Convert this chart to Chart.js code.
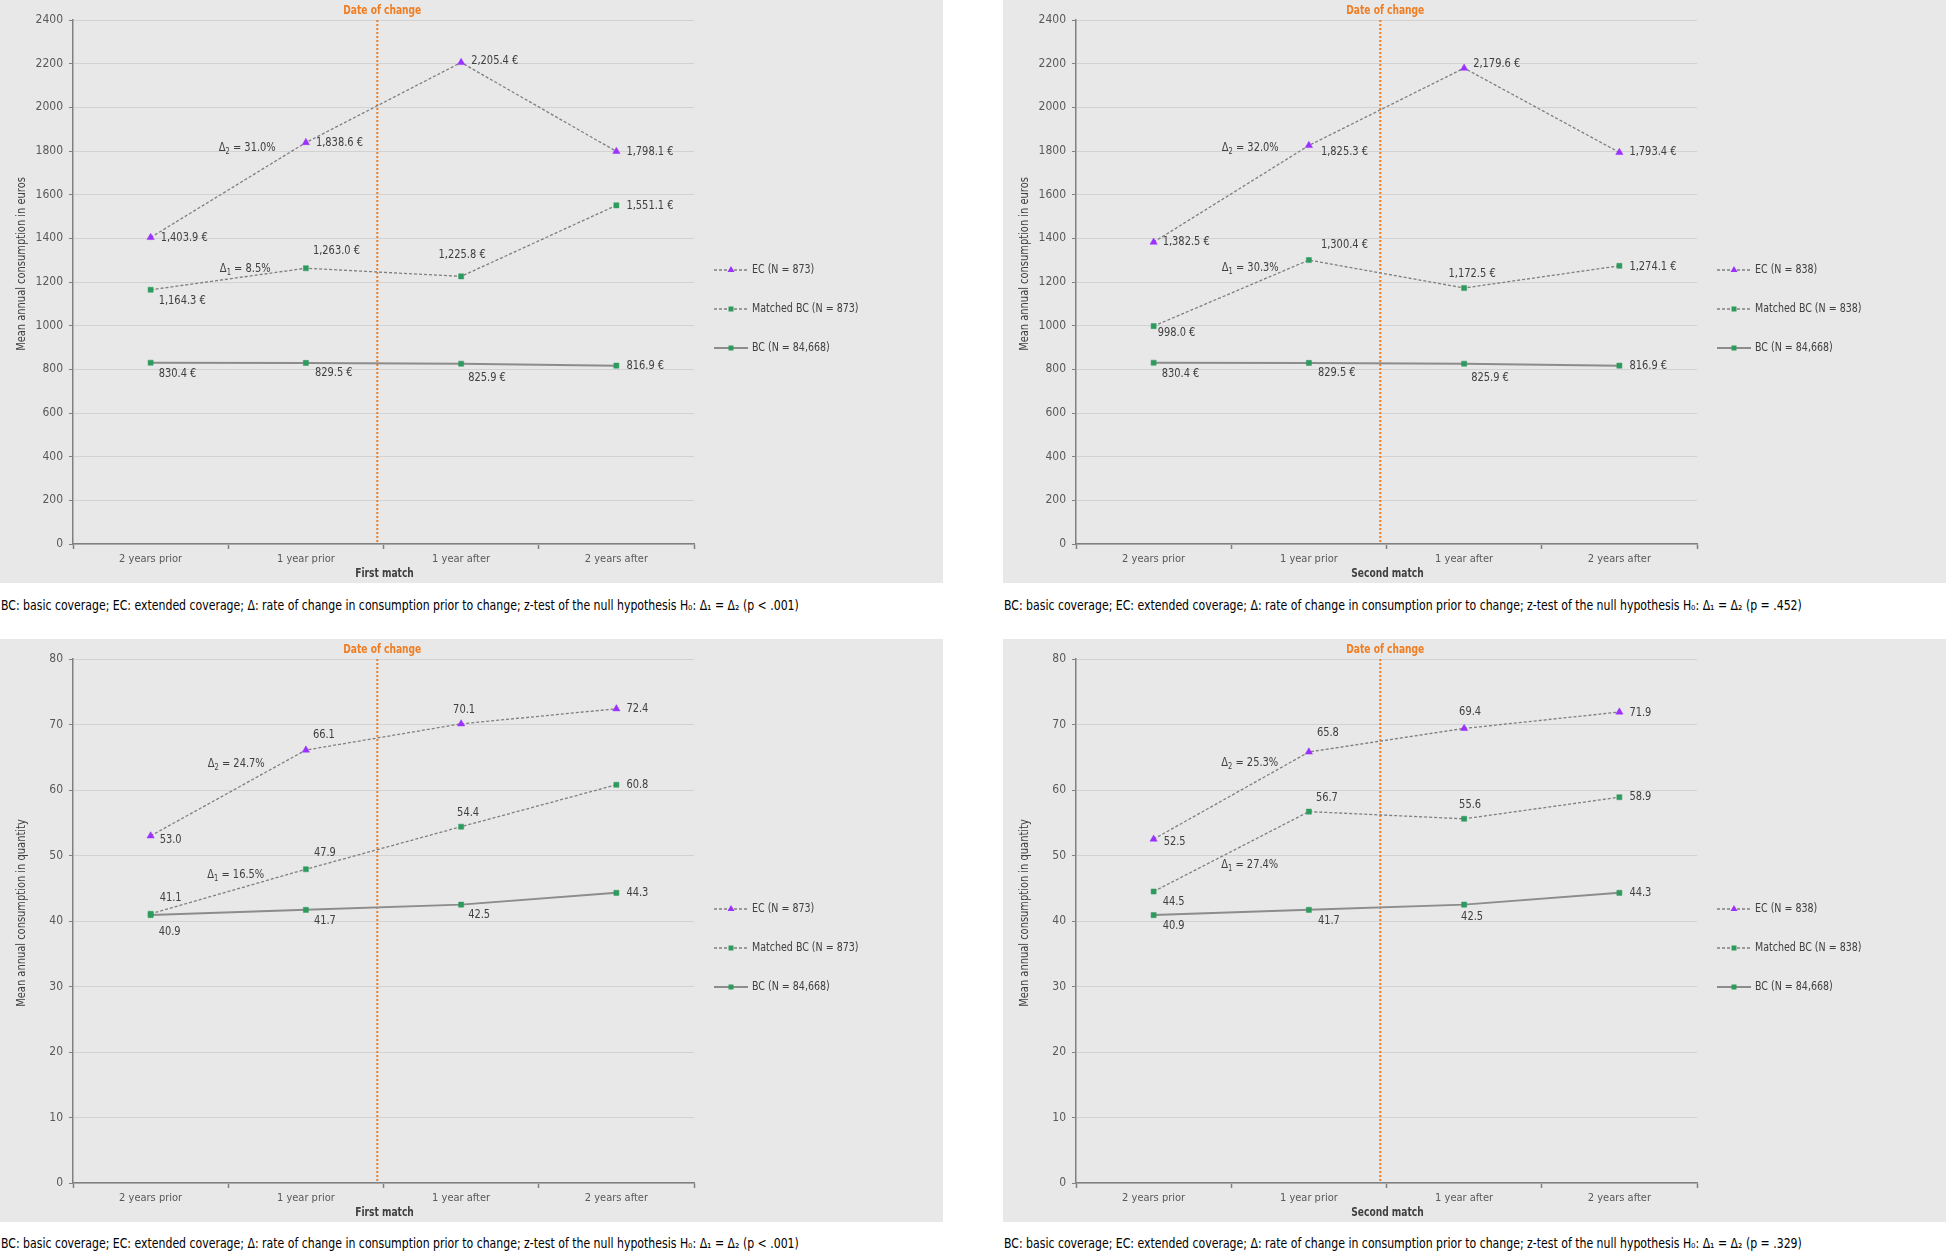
<!DOCTYPE html>
<html><head><meta charset="utf-8">
<script src="https://cdn.jsdelivr.net/npm/chart.js@4.4.1/dist/chart.umd.min.js"></script>
<style>
html,body{margin:0;padding:0;background:#fff;width:1946px;height:1251px;overflow:hidden;}
.panel{position:absolute;width:943px;height:583px;background:#e8e8e8;}
.panel canvas{position:absolute;left:0;top:0;}
.cap{position:absolute;font-family:"Liberation Sans Narrow","DejaVu Sans Condensed","Arial Narrow",sans-serif;font-size:13.5px;color:#000;white-space:nowrap;line-height:18px;transform:scaleX(0.9);transform-origin:0 50%;}
</style></head><body>
<div class="panel" style="left:0;top:0"><canvas id="c1" width="943" height="583"></canvas></div>
<div class="panel" style="left:1003px;top:0"><canvas id="c2" width="943" height="583"></canvas></div>
<div class="panel" style="left:0;top:639px"><canvas id="c3" width="943" height="583"></canvas></div>
<div class="panel" style="left:1003px;top:639px"><canvas id="c4" width="943" height="583"></canvas></div>
<div class="cap" id="cap1" style="left:1px;top:596px"></div>
<div class="cap" id="cap2" style="left:1004px;top:596px"></div>
<div class="cap" id="cap3" style="left:1px;top:1234px"></div>
<div class="cap" id="cap4" style="left:1004px;top:1234px"></div>
<script>
// ---------- data ----------
const categories = ['2 years prior', '1 year prior', '1 year after', '2 years after'];
const ecEuros1 = [1403.9, 1838.6, 2205.4, 1798.1];
const matchedEuros1 = [1164.3, 1263.0, 1225.8, 1551.1];
const bcEuros = [830.4, 829.5, 825.9, 816.9];
const ecEuros2 = [1382.5, 1825.3, 2179.6, 1793.4];
const matchedEuros2 = [998.0, 1300.4, 1172.5, 1274.1];
const ecQty1 = [53.0, 66.1, 70.1, 72.4];
const matchedQty1 = [41.1, 47.9, 54.4, 60.8];
const bcQty = [40.9, 41.7, 42.5, 44.3];
const ecQty2 = [52.5, 65.8, 69.4, 71.9];
const matchedQty2 = [44.5, 56.7, 55.6, 58.9];
const deltaEC = [31.0, 32.0, 24.7, 25.3];       // Δ2
const deltaMatched = [8.5, 30.3, 16.5, 27.4];   // Δ1
const matchN = [873, 838, 873, 838];
const bcN = '84,668';
const matchNames = ['First match', 'Second match', 'First match', 'Second match'];
const yTitles = ['Mean annual consumption in euros', 'Mean annual consumption in euros',
                 'Mean annual consumption in quantity', 'Mean annual consumption in quantity'];
const yMax = [2400, 2400, 80, 80];
const yStep = [200, 200, 10, 10];
const pValues = ['p < .001', 'p = .452', 'p < .001', 'p = .329'];
const changeLabel = 'Date of change';

// ---------- styles ----------
const FAM = '"Liberation Sans Narrow","DejaVu Sans Condensed","Arial Narrow",sans-serif';
const PURPLE = '#9B30FF', GREEN = '#2E9B5E', ORANGE = '#F07D22', TEXT = '#404040', TICK = '#595959';
const DASH = [3, 2];
const SX = 0.88; // horizontal squeeze to mimic a narrow font

function fmtEuro(v){ const s = v.toFixed(1).split('.'); return s[0].replace(/\B(?=(\d{3})+(?!\d))/g, ',') + '.' + s[1] + ' €'; }
function fmtQty(v){ return v.toFixed(1); }

function fillN(ctx, text, x, y, align){
  ctx.save(); ctx.translate(x, y); ctx.scale(SX, 1);
  ctx.textAlign = align; ctx.textBaseline = 'middle'; ctx.fillText(text, 0, 0);
  ctx.restore();
}

// label placements [dx, dy, align] per dataset (EC, Matched, BC) per point
const placements = [
  [[[10,0,'l'],[10,0,'l'],[10,-2,'l'],[10,0,'l']],
   [[8,11,'l'],[7,-17,'l'],[1,-22,'c'],[10,0,'l']],
   [[8,11,'l'],[9,10,'l'],[7,14,'l'],[10,0,'l']]],
  [[[9,0,'l'],[12,6,'l'],[9,-4,'l'],[10,-1,'l']],
   [[4,7,'l'],[12,-15,'l'],[8,-14,'c'],[10,1,'l']],
   [[8,11,'l'],[9,10,'l'],[7,14,'l'],[10,0,'l']]],
  [[[9,4,'l'],[7,-15,'l'],[3,-14,'c'],[10,0,'l']],
   [[9,-16,'l'],[8,-17,'l'],[7,-14,'c'],[10,0,'l']],
   [[8,17,'l'],[8,11,'l'],[7,10,'l'],[10,0,'l']]],
  [[[10,3,'l'],[8,-19,'l'],[6,-17,'c'],[10,1,'l']],
   [[9,10,'l'],[7,-14,'l'],[6,-14,'c'],[10,0,'l']],
   [[9,11,'l'],[9,11,'l'],[8,12,'c'],[10,0,'l']]]
];
// delta label offsets from segment midpoint [dx, dy] for EC (Δ2) and Matched (Δ1)
const deltaOffsets = [
  [[19,-42],[17,-10]],
  [[19,-46],[19,-25]],
  [[8,-29],[7.5,-16.5]],
  [[18.5,-33],[18.5,13.4]]
];
const yTitleCenter = [264, 264, 274, 274];

function drawDelta(ctx, sub, value, cx, cy){
  const f1 = '12.5px ' + FAM, f2 = '8.5px ' + FAM;
  const rest = ' = ' + value.toFixed(1) + '%';
  ctx.save();
  ctx.font = f1; const w1 = ctx.measureText('Δ').width, w3 = ctx.measureText(rest).width;
  ctx.font = f2; const w2 = ctx.measureText(sub).width;
  ctx.translate(cx, cy); ctx.scale(SX, 1);
  let x = -(w1 + w2 + w3) / 2;
  ctx.textAlign = 'left'; ctx.textBaseline = 'middle';
  ctx.font = f1; ctx.fillText('Δ', x, 0); x += w1;
  ctx.font = f2; ctx.fillText(sub, x, 4); x += w2;
  ctx.font = f1; ctx.fillText(rest, x, 0);
  ctx.restore();
}

const overlay = {
  id: 'overlay',
  beforeDatasetsDraw(chart, args, o){
    const ctx = chart.ctx, xs = chart.scales.x, ca = chart.chartArea;
    const x1 = xs.getPixelForValue(1), x2 = xs.getPixelForValue(2);
    const xc = x1 + 0.46 * (x2 - x1);
    ctx.save();
    ctx.strokeStyle = ORANGE; ctx.lineWidth = 2; ctx.setLineDash([2, 2]);
    ctx.beginPath(); ctx.moveTo(xc, ca.top); ctx.lineTo(xc, ca.bottom); ctx.stroke();
    ctx.setLineDash([]);
    ctx.fillStyle = ORANGE; ctx.font = 'bold 11.5px ' + FAM;
    fillN(ctx, changeLabel, xc + 5, 11, 'center');
    ctx.restore();
  },
  afterDatasetsDraw(chart, args, o){
    const k = o.k, ctx = chart.ctx, ca = chart.chartArea;
    const fmt = k < 2 ? fmtEuro : fmtQty;
    ctx.save();
    ctx.fillStyle = TEXT;
    chart.data.datasets.forEach((ds, i) => {
      const meta = chart.getDatasetMeta(i);
      meta.data.forEach((pt, j) => {
        const pl = placements[k][i][j];
        ctx.font = '12.5px ' + FAM;
        fillN(ctx, fmt(ds.data[j]), pt.x + pl[0], pt.y + pl[1], pl[2] === 'c' ? 'center' : 'left');
      });
    });
    // delta labels
    const dl = [[0, '2', deltaEC[k]], [1, '1', deltaMatched[k]]];
    dl.forEach((d, n) => {
      const m = chart.getDatasetMeta(d[0]).data;
      const mx = (m[0].x + m[1].x) / 2, my = (m[0].y + m[1].y) / 2;
      const off = deltaOffsets[k][n];
      drawDelta(ctx, d[1], d[2], mx + off[0], my + off[1]);
    });
    // y title
    ctx.save();
    ctx.translate(22, yTitleCenter[k]); ctx.rotate(-Math.PI / 2);
    ctx.font = '12.5px ' + FAM; ctx.fillStyle = TEXT;
    fillN(ctx, yTitles[k], 0, 0, 'center');
    ctx.restore();
    // x title
    ctx.font = 'bold 11.5px ' + FAM; ctx.fillStyle = TEXT;
    fillN(ctx, matchNames[k], (ca.left + ca.right) / 2 + 1, 574, 'center');
    // legend
    const ly = [270, 309, 348];
    chart.data.datasets.forEach((ds, i) => {
      const y = ly[i];
      ctx.strokeStyle = ds.borderColor; ctx.lineWidth = ds.borderWidth;
      ctx.setLineDash(ds.borderDash || []);
      ctx.beginPath(); ctx.moveTo(714, y); ctx.lineTo(748, y); ctx.stroke();
      ctx.setLineDash([]);
      ctx.fillStyle = ds.pointBackgroundColor;
      if (ds.pointStyle === 'triangle') {
        ctx.beginPath(); ctx.moveTo(731, y - 4); ctx.lineTo(734.5, y + 2); ctx.lineTo(727.5, y + 2); ctx.closePath(); ctx.fill();
      } else {
        ctx.fillRect(728.5, y - 2.5, 5, 5);
      }
      ctx.fillStyle = TEXT; ctx.font = '12px ' + FAM;
      fillN(ctx, ds.label, 752, y, 'left');
    });
    ctx.restore();
  }
};

function makeChart(k, ec, matched, bc){
  const n = matchN[k];
  new Chart(document.getElementById('c' + (k + 1)), {
    type: 'line',
    data: {
      labels: categories,
      datasets: [
        { label: 'EC (N = ' + n + ')', data: ec, borderColor: '#7f7f7f', borderWidth: 1.3, borderDash: DASH,
          pointStyle: 'triangle', pointRadius: 4.2, pointBackgroundColor: PURPLE, pointBorderColor: PURPLE, pointBorderWidth: 0.5, tension: 0 },
        { label: 'Matched BC (N = ' + n + ')', data: matched, borderColor: '#7f7f7f', borderWidth: 1.3, borderDash: DASH,
          pointStyle: 'rect', pointRadius: 3.6, pointBackgroundColor: GREEN, pointBorderColor: GREEN, pointBorderWidth: 0.5, tension: 0 },
        { label: 'BC (N = ' + bcN + ')', data: bc, borderColor: '#8c8c8c', borderWidth: 2,
          pointStyle: 'rect', pointRadius: 3.6, pointBackgroundColor: GREEN, pointBorderColor: GREEN, pointBorderWidth: 0.5, tension: 0 }
      ]
    },
    options: {
      responsive: false, animation: false, devicePixelRatio: 1,
      layout: { padding: { top: 20, right: 249, left: 0, bottom: 0 } },
      plugins: { legend: { display: false }, tooltip: { enabled: false }, overlay: { k: k } },
      scales: {
        x: {
          type: 'category', offset: true,
          grid: { offset: true, drawOnChartArea: false, drawTicks: true, tickLength: 5, tickColor: '#808080', tickWidth: 1.5 },
          border: { color: '#808080', width: 1.5 },
          ticks: { color: TICK, font: { family: FAM, size: 11 }, padding: 3.5, maxRotation: 0 },
          title: { display: false },
          afterFit: s => { s.height = 39; }
        },
        y: {
          min: 0, max: yMax[k],
          grid: { color: '#d2d2d2', lineWidth: 1, drawTicks: true, tickLength: 4, tickColor: '#808080' },
          border: { color: '#808080', width: 1.5 },
          ticks: { stepSize: yStep[k], color: TICK, font: { family: FAM, size: 12 }, padding: 6, callback: v => String(v) },
          afterFit: s => { s.width = 73; }
        }
      }
    },
    plugins: [overlay]
  });
}

makeChart(0, ecEuros1, matchedEuros1, bcEuros);
makeChart(1, ecEuros2, matchedEuros2, bcEuros);
makeChart(2, ecQty1, matchedQty1, bcQty);
makeChart(3, ecQty2, matchedQty2, bcQty);

for (let k = 0; k < 4; k++) {
  document.getElementById('cap' + (k + 1)).textContent =
    'BC: basic coverage; EC: extended coverage; Δ: rate of change in consumption prior to change; z-test of the null hypothesis H₀: Δ₁ = Δ₂ (' + pValues[k] + ')';
}
</script>
</body></html>
